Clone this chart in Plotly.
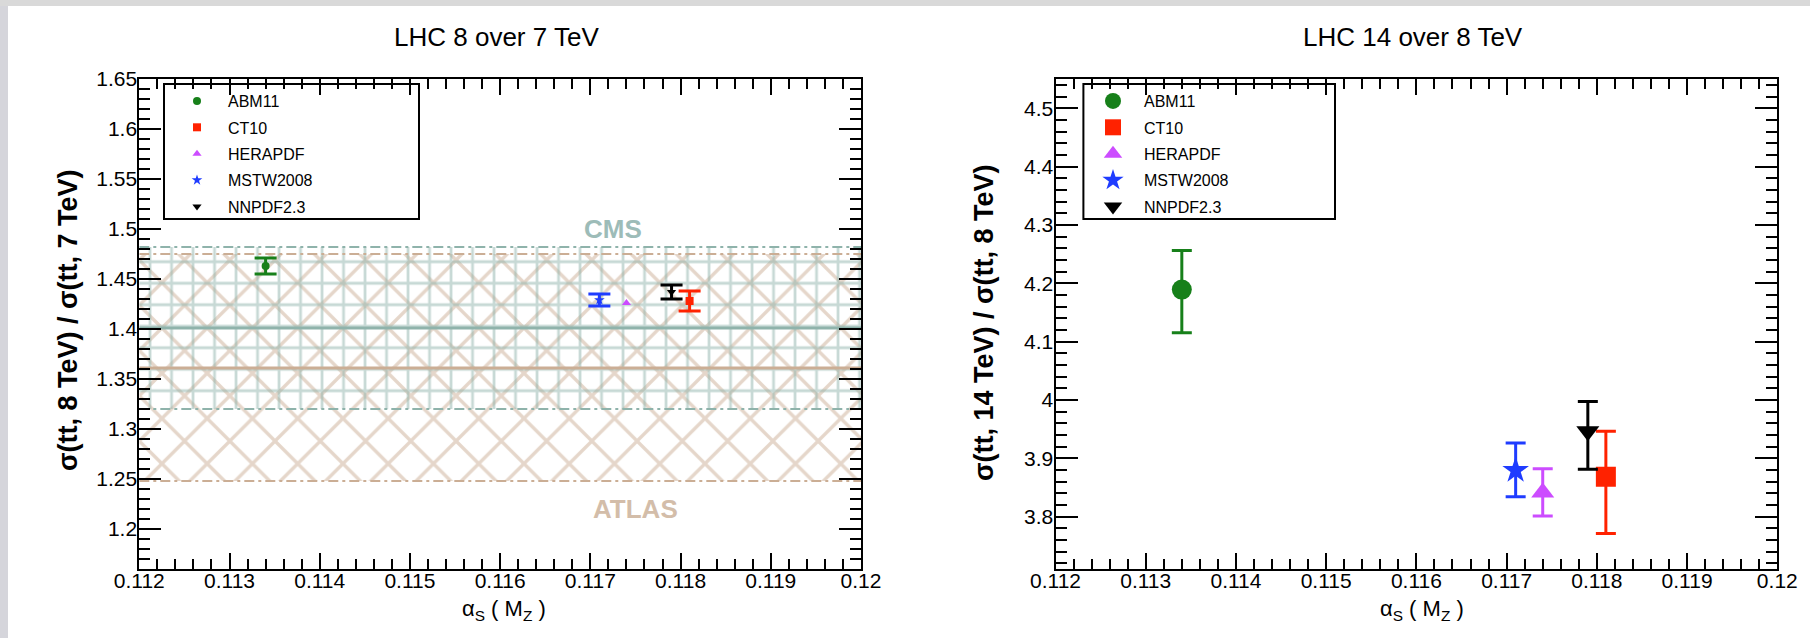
import plotly.graph_objects as go

# PDF sets and their alpha_s(M_Z) values
pdf_names = ["ABM11", "CT10", "HERAPDF", "MSTW2008", "NNPDF2.3"]
alpha_s = [0.1134, 0.1181, 0.1174, 0.1171, 0.1179]
pdf_colors = ["#17801a", "#ff2200", "#cc4cff", "#1f3cff", "#000000"]
pdf_symbols = ["circle", "square", "triangle-up", "star", "triangle-down"]

# sigma(tt, 8 TeV) / sigma(tt, 7 TeV); None = uncertainty below marker size
ratio_8_7 = [1.463, 1.428, 1.426, 1.429, 1.437]
ratio_8_7_err = [0.008, 0.010, None, 0.006, 0.007]

# sigma(tt, 14 TeV) / sigma(tt, 8 TeV)
ratio_14_8 = [4.189, 3.868, 3.841, 3.879, 3.946]
ratio_14_8_err_up = [0.067, 0.078, 0.041, 0.047, 0.051]
ratio_14_8_err_down = [0.074, 0.097, 0.040, 0.045, 0.065]

# measured 8/7 ratios: [low, central, high]
atlas_band = [1.248, 1.361, 1.475]
cms_band = [1.320, 1.401, 1.482]

x_range = [0.112, 0.12]
y_range_left = [1.16, 1.65]
y_range_right = [3.71, 4.55]

W, H = 1810, 638
FONT = "Liberation Sans, Arial, sans-serif"
ATLAS_COLOR = "#cbae95"
CMS_COLOR = "#8fb3ab"


def px_x(p):
    return p / W


def px_y(p):
    return 1 - p / H


fig = go.Figure()


# ---- measurement bands (left panel) ----
def band(vals, shape, size, solidity, color):
    lo, mid, hi = vals
    x0, x1 = x_range
    fig.add_trace(go.Scatter(
        x=[x0, x1, x1, x0, x0], y=[lo, lo, hi, hi, lo],
        xaxis="x", yaxis="y", mode="lines", line=dict(width=0),
        fill="toself", fillcolor="rgba(0,0,0,0)",
        fillpattern=dict(shape=shape, fgcolor=color, bgcolor="rgba(0,0,0,0)",
                         size=size, solidity=solidity),
        showlegend=False, hoverinfo="skip"))


def hline(v, color, dash, width):
    fig.add_trace(go.Scatter(
        x=x_range, y=[v, v], xaxis="x", yaxis="y", mode="lines",
        line=dict(color=color, dash=dash, width=width),
        showlegend=False, hoverinfo="skip"))


band(atlas_band, "x", 32, 0.2, ATLAS_COLOR)
band(cms_band, "+", 21.5, 0.24, CMS_COLOR)

DASHDOT = "10px,4px,3px,4px"
hline(atlas_band[0], ATLAS_COLOR, DASHDOT, 2)
hline(atlas_band[2], ATLAS_COLOR, DASHDOT, 2)
hline(atlas_band[1], ATLAS_COLOR, "solid", 3)
hline(cms_band[0], CMS_COLOR, DASHDOT, 2)
hline(cms_band[2], CMS_COLOR, DASHDOT, 2)
hline(cms_band[1], CMS_COLOR, "solid", 3)

# ---- PDF predictions ----
for i, name in enumerate(pdf_names):
    err = ratio_8_7_err[i]
    fig.add_trace(go.Scatter(
        x=[alpha_s[i]], y=[ratio_8_7[i]], xaxis="x", yaxis="y",
        mode="markers", name=name, legend="legend", legendgroup="l" + name,
        marker=dict(color=pdf_colors[i], symbol=pdf_symbols[i], size=8,
                    line=dict(width=0)),
        error_y=dict(type="data", array=[err or 0], symmetric=True,
                     visible=err is not None,
                     color=pdf_colors[i], thickness=3, width=11)))

for i, name in enumerate(pdf_names):
    fig.add_trace(go.Scatter(
        x=[alpha_s[i]], y=[ratio_14_8[i]], xaxis="x2", yaxis="y2",
        mode="markers", name=name, legend="legend2", legendgroup="r" + name,
        marker=dict(color=pdf_colors[i], symbol=pdf_symbols[i], size=20,
                    line=dict(width=0)),
        error_y=dict(type="data", array=[ratio_14_8_err_up[i]],
                     arrayminus=[ratio_14_8_err_down[i]], symmetric=False,
                     color=pdf_colors[i], thickness=3, width=10)))

tickfont = dict(family=FONT, size=21, color="black")


def xaxis_cfg(domain):
    return dict(domain=domain, range=x_range, tick0=0.112, dtick=0.001,
                ticks="inside", ticklen=16, tickwidth=2, tickcolor="black",
                showline=True, linewidth=2, linecolor="black", mirror="ticks",
                showgrid=False, zeroline=False, tickfont=tickfont,
                ticklabelstandoff=-8,
                minor=dict(dtick=0.0002, ticks="inside", ticklen=10,
                           tickwidth=2, tickcolor="black", showgrid=False))


def yaxis_cfg(domain, rng, dtick, mdtick, anchor):
    return dict(domain=domain, range=rng, tick0=0, dtick=dtick, anchor=anchor,
                ticks="inside", ticklen=22, tickwidth=2, tickcolor="black",
                showline=True, linewidth=2, linecolor="black", mirror="ticks",
                showgrid=False, zeroline=False, tickfont=tickfont,
                ticklabelstandoff=-4,
                minor=dict(dtick=mdtick, ticks="inside", ticklen=11,
                           tickwidth=2, tickcolor="black", showgrid=False))


def legend_cfg(x_left):
    return dict(x=px_x(x_left), y=px_y(84), xanchor="left", yanchor="top",
                bgcolor="rgba(0,0,0,0)", borderwidth=0, itemwidth=52,
                tracegroupgap=2.6, traceorder="grouped",
                font=dict(family=FONT, size=16, color="black"))


ydom = [px_y(569), px_y(79)]
fig.update_layout(
    width=W, height=H, margin=dict(l=0, r=0, t=0, b=0, autoexpand=False),
    paper_bgcolor="white", plot_bgcolor="white",
    font=dict(family=FONT, color="black"),
    xaxis=xaxis_cfg([px_x(139.3), px_x(861)]),
    yaxis=yaxis_cfg(ydom, y_range_left, 0.05, 0.01, "x"),
    xaxis2=dict(xaxis_cfg([px_x(1055.5), px_x(1777.3)]), anchor="y2"),
    yaxis2=yaxis_cfg(ydom, y_range_right, 0.1, 0.02, "x2"),
    legend=legend_cfg(166),
    legend2=legend_cfg(1082),
    showlegend=True,
)

# legend frames, window border strips
shapes = [
    dict(type="rect", xref="paper", yref="paper", x0=0, x1=px_x(8), y0=0, y1=1,
         fillcolor="#d5d5db", line=dict(width=0), layer="below"),
    dict(type="rect", xref="paper", yref="paper", x0=0, x1=1, y0=px_y(6), y1=1,
         fillcolor="#d9d9d9", line=dict(width=0), layer="below"),
    dict(type="rect", xref="paper", yref="paper", x0=px_x(164), x1=px_x(419),
         y0=px_y(219), y1=px_y(84), line=dict(color="black", width=2),
         fillcolor="rgba(0,0,0,0)"),
    dict(type="rect", xref="paper", yref="paper", x0=px_x(1083.4), x1=px_x(1335),
         y0=px_y(219), y1=px_y(84), line=dict(color="black", width=2),
         fillcolor="rgba(0,0,0,0)"),
]
fig.update_layout(shapes=shapes)

ann = [
    dict(text="LHC 8 over 7 TeV", x=px_x(496.7), y=px_y(37), font=dict(size=26)),
    dict(text="LHC 14 over 8 TeV", x=px_x(1412.7), y=px_y(37), font=dict(size=26)),
    dict(text="σ(tt, 8 TeV) / σ(tt, 7 TeV)", x=px_x(68), y=px_y(321),
         textangle=-90, font=dict(size=27, weight="bold")),
    dict(text="σ(tt, 14 TeV) / σ(tt, 8 TeV)", x=px_x(984), y=px_y(323),
         textangle=-90, font=dict(size=27, weight="bold")),
    dict(text="α<sub>S</sub> ( M<sub>Z</sub> )", x=px_x(504), y=px_y(610),
         font=dict(size=22)),
    dict(text="α<sub>S</sub> ( M<sub>Z</sub> )", x=px_x(1422), y=px_y(610),
         font=dict(size=22)),
]
annotations = []
for a in ann:
    a.update(xref="paper", yref="paper", showarrow=False,
             xanchor="center", yanchor="middle")
    a["font"] = dict(family=FONT, color="black", **a["font"])
    annotations.append(a)

annotations.append(dict(text="CMS", x=0.11725, y=1.50, xref="x", yref="y",
                        showarrow=False, font=dict(family=FONT, size=26,
                        color="#9dbcb8", weight="bold")))
annotations.append(dict(text="ATLAS", x=0.1175, y=1.22, xref="x", yref="y",
                        showarrow=False, font=dict(family=FONT, size=26,
                        color="#d3bda9", weight="bold")))
fig.update_layout(annotations=annotations)

fig.write_html("out.html")
